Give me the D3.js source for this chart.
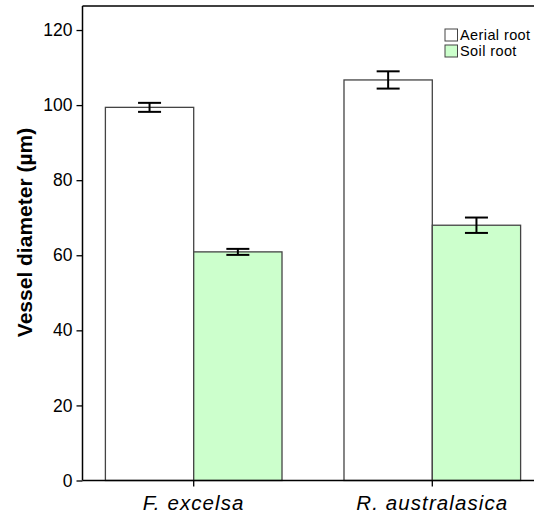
<!DOCTYPE html>
<html>
<head>
<meta charset="utf-8">
<script src="https://cdn.jsdelivr.net/npm/d3@7"></script>
<style>
  html, body { margin: 0; padding: 0; background: #fff; }
  svg { display: block; }
  text { font-family: Arial, "Liberation Sans", sans-serif; }
</style>
</head>
<body>
<svg id="chart" width="534" height="515"></svg>
<script>
const categories = ["F. excelsa", "R. australasica"];
const series = ["Aerial root", "Soil root"];
const aerialMeans = [99.4, 106.7];
const aerialErrors = [1.2, 2.3];
const soilMeans = [60.9, 68.0];
const soilErrors = [0.8, 2.05];
const yTicks = [0, 20, 40, 60, 80, 100, 120];
const seriesColors = ["#ffffff", "#ccffcc"];

(function () {
const svg = d3.select("#chart");
const plotLeft = 82.5, plotTop = 6, plotBottom = 480.5;

const y = d3.scaleLinear().domain([0, 126.4]).range([plotBottom, plotTop]);
const x0 = d3.scaleBand().domain(categories).range([74.4, 551.6]).paddingInner(0).paddingOuter(0);
const x1 = d3.scaleBand().domain(series).range([0, x0.bandwidth()]).paddingInner(0).paddingOuter(0.351);
const color = d3.scaleOrdinal().domain(series).range(seriesColors);

const rows = [];
categories.forEach((c, i) => {
  rows.push({cat: c, s: series[0], v: aerialMeans[i], e: aerialErrors[i]});
  rows.push({cat: c, s: series[1], v: soilMeans[i], e: soilErrors[i]});
});

// bars
svg.append("g").selectAll("rect").data(rows).join("rect")
  .attr("x", d => x0(d.cat) + x1(d.s))
  .attr("y", d => y(d.v))
  .attr("width", x1.bandwidth())
  .attr("height", d => y(0) - y(d.v))
  .attr("fill", d => color(d.s))
  .attr("stroke", "#444")
  .attr("stroke-width", 1.3);

// error bars
const capW = 23;
const eb = svg.append("g").attr("stroke", "#000").attr("stroke-width", 2).attr("fill", "none");
rows.forEach(d => {
  const cx = x0(d.cat) + x1(d.s) + x1.bandwidth() / 2;
  eb.append("line").attr("x1", cx).attr("x2", cx).attr("y1", y(d.v + d.e)).attr("y2", y(d.v - d.e));
  eb.append("line").attr("x1", cx - capW/2).attr("x2", cx + capW/2).attr("y1", y(d.v + d.e)).attr("y2", y(d.v + d.e));
  eb.append("line").attr("x1", cx - capW/2).attr("x2", cx + capW/2).attr("y1", y(d.v - d.e)).attr("y2", y(d.v - d.e));
});

// top frame line
svg.append("line").attr("x1", plotLeft).attr("x2", 534).attr("y1", plotTop).attr("y2", plotTop)
  .attr("stroke", "#000").attr("stroke-width", 1.5);

// y axis
const yAxis = svg.append("g").attr("transform", `translate(${plotLeft},0)`)
  .call(d3.axisLeft(y).tickValues(yTicks).tickSize(6).tickPadding(4).tickSizeOuter(0));
yAxis.select(".domain").attr("stroke", "#000").attr("stroke-width", 1.5).attr("d", `M0,${plotTop}V${plotBottom}`);
yAxis.selectAll(".tick line").attr("stroke", "#000").attr("stroke-width", 1.3);
yAxis.selectAll(".tick text").attr("font-size", 17.5).attr("fill", "#000")
  .attr("font-family", "Arial, 'Liberation Sans', sans-serif");

// x axis
const xAxis = svg.append("g").attr("transform", `translate(0,${plotBottom})`)
  .call(d3.axisBottom(x0).tickSize(6).tickPadding(9).tickSizeOuter(0));
xAxis.select(".domain").attr("stroke", "#000").attr("stroke-width", 1.5).attr("d", `M${plotLeft},0H534`);
xAxis.selectAll(".tick line").attr("stroke", "#000").attr("stroke-width", 1.3);
xAxis.selectAll(".tick text").attr("font-size", 20.5).attr("font-style", "italic")
  .attr("letter-spacing", "1.1px").attr("fill", "#000")
  .attr("font-family", "Arial, 'Liberation Sans', sans-serif");

// y title
svg.append("text")
  .attr("transform", `translate(32,232.5) rotate(-90)`)
  .attr("text-anchor", "middle")
  .attr("font-size", 21).attr("font-weight", "bold").attr("fill", "#000")
  .text("Vessel diameter (µm)");

// legend
const lg = svg.append("g");
series.forEach((s, i) => {
  lg.append("rect").attr("x", 445).attr("y", 29 + i * 16).attr("width", 12.5).attr("height", 12)
    .attr("fill", color(s)).attr("stroke", "#444").attr("stroke-width", 1);
  lg.append("text").attr("x", 460).attr("y", 40 + i * 16).attr("font-size", 14.5)
    .attr("letter-spacing", "0.4px").attr("fill", "#000")
    .text(s);
});
})();
</script>
</body>
</html>
